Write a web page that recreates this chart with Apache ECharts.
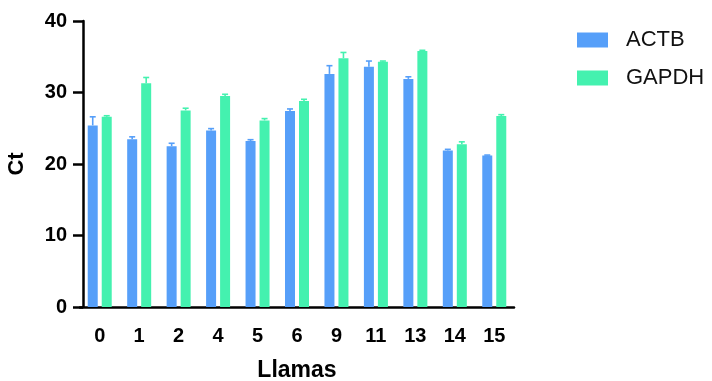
<!DOCTYPE html>
<html>
<head>
<meta charset="utf-8">
<script src="https://cdn.jsdelivr.net/npm/echarts@6/dist/echarts.min.js"></script>
<style>
  html, body { margin: 0; padding: 0; background: #ffffff; }
  #chart { width: 712px; height: 381px; }
</style>
</head>
<body>
<div id="chart"></div>
<script>
// Ct values per llama for two reference genes (mean and SD)
const categories = ['0', '1', '2', '4', '5', '6', '9', '11', '13', '14', '15'];
const actbMean  = [25.4, 23.45, 22.5, 24.7, 23.2, 27.4, 32.6, 33.6, 31.9, 21.9, 21.2];
const actbSD    = [1.2, 0.35, 0.4, 0.25, 0.2, 0.3, 1.15, 0.8, 0.3, 0.15, 0.05];
const gapdhMean = [26.6, 31.3, 27.5, 29.5, 26.1, 28.8, 34.8, 34.3, 35.8, 22.75, 26.7];
const gapdhSD   = [0.15, 0.8, 0.3, 0.25, 0.25, 0.25, 0.8, 0.1, 0.1, 0.35, 0.2];

const FONT = 'Arial, "Liberation Sans", Helvetica, sans-serif';
const BLUE = '#569ff9';
const GREEN = '#44f1af';
const BAR_W = 10;
const BAR_GAP = 4;

// Upward-only error bar with a small cap, placed over one bar of the pair
function errorSeries(name, mean, sd, color, shift) {
  return {
    type: 'custom',
    name: name + ' SD',
    z: 3,
    data: mean.map((m, i) => [i, m, m + sd[i]]),
    renderItem: function (params, api) {
      const base = api.coord([api.value(0), api.value(1)]);
      const top = api.coord([api.value(0), api.value(2)]);
      const x = base[0] + shift;
      const cap = 3;
      return {
        type: 'group',
        children: [
          { type: 'line', shape: { x1: x, y1: base[1], x2: x, y2: top[1] },
            style: { stroke: color, lineWidth: 1.6 } },
          { type: 'line', shape: { x1: x - cap, y1: top[1], x2: x + cap, y2: top[1] },
            style: { stroke: color, lineWidth: 1.6 } }
        ]
      };
    }
  };
}

const chart = echarts.init(document.getElementById('chart'), null, { renderer: 'canvas' });
const shift = (BAR_W + BAR_GAP) / 2;

chart.setOption({
  animation: false,
  textStyle: { fontFamily: FONT },
  grid: { left: 80, right: 198, top: 21, bottom: 74, containLabel: false, outerBoundsMode: 'none' },
  legend: {
    data: ['ACTB', 'GAPDH'],
    orient: 'vertical',
    left: 577,
    top: 29,
    padding: 0,
    itemWidth: 31,
    itemHeight: 15,
    itemGap: 16,
    icon: 'rect',
    textStyle: { fontFamily: FONT, fontSize: 22, color: '#111', padding: [0, 0, 0, 13] }
  },
  xAxis: {
    type: 'category',
    data: categories,
    name: 'Llamas',
    nameLocation: 'middle',
    nameGap: 52,
    nameTextStyle: { fontFamily: FONT, fontSize: 23, fontWeight: 'bold', color: '#000' },
    axisLine: { lineStyle: { color: '#000', width: 2.5 } },
    axisTick: { alignWithLabel: true, length: 10, lineStyle: { color: '#000', width: 2.5 } },
    axisLabel: { fontFamily: FONT, fontSize: 20, fontWeight: 'bold', color: '#000', margin: 19 }
  },
  yAxis: {
    type: 'value',
    min: 0,
    max: 40,
    interval: 10,
    offset: -3,
    name: 'Ct',
    nameLocation: 'middle',
    nameGap: 55,
    nameTextStyle: { fontFamily: FONT, fontSize: 22, fontWeight: 'bold', color: '#000' },
    axisLine: { show: true, lineStyle: { color: '#000', width: 2.5 } },
    axisTick: { show: true, length: 10, lineStyle: { color: '#000', width: 2.5 } },
    axisLabel: { fontFamily: FONT, fontSize: 20, fontWeight: 'bold', color: '#000', margin: 16 },
    splitLine: { show: false }
  },
  series: [
    { name: 'ACTB', type: 'bar', data: actbMean, barWidth: BAR_W, barGap: '40%',
      itemStyle: { color: BLUE } },
    { name: 'GAPDH', type: 'bar', data: gapdhMean, barWidth: BAR_W, barGap: '40%',
      itemStyle: { color: GREEN } },
    errorSeries('ACTB', actbMean, actbSD, BLUE, -shift),
    errorSeries('GAPDH', gapdhMean, gapdhSD, GREEN, shift)
  ]
});
</script>
</body>
</html>
